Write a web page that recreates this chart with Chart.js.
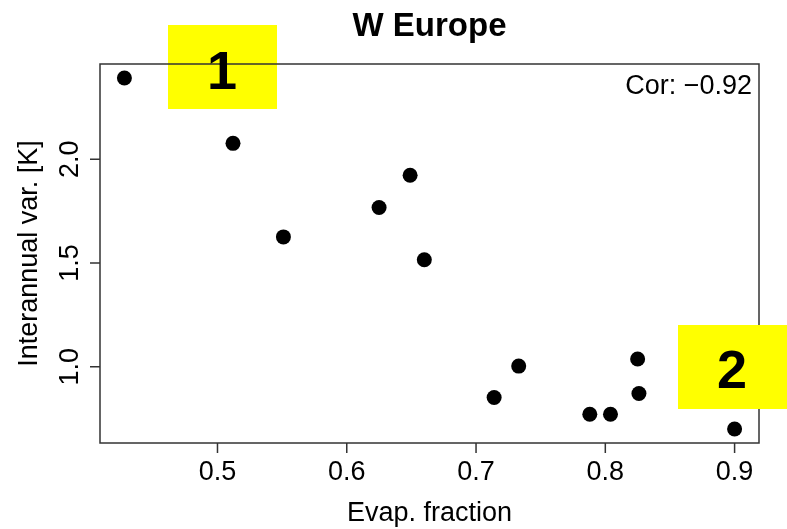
<!DOCTYPE html>
<html>
<head>
<meta charset="utf-8">
<script src="https://cdn.jsdelivr.net/npm/chart.js@4/dist/chart.umd.min.js"></script>
<style>
  html, body { margin: 0; padding: 0; background: #fff; }
  #wrap { width: 787px; height: 529px; }
</style>
</head>
<body>
<div id="wrap"><canvas id="chart" width="787" height="529"></canvas></div>
<script>
// Data
const evapFraction = [0.428, 0.512, 0.551, 0.625, 0.649, 0.660, 0.714, 0.733, 0.788, 0.804, 0.825, 0.826, 0.900];
const interannualVar = [2.392, 2.077, 1.626, 1.768, 1.923, 1.516, 0.852, 1.003, 0.771, 0.771, 1.037, 0.871, 0.700];
const xTicks = [0.5, 0.6, 0.7, 0.8, 0.9];
const yTicks = [1.0, 1.5, 2.0];
const titleText = 'W Europe';
const xTitle = 'Evap. fraction';
const yTitle = 'Interannual var. [K]';
const corText = 'Cor: \u22120.92';

const FONT = '"Liberation Sans", Arial, Helvetica, sans-serif';

// R-style axis range: data range extended by 4% each side
function rRange(v) {
    const lo = Math.min(...v), hi = Math.max(...v);
    const d = (hi - lo) * 0.04;
    return [lo - d, hi + d];
}
const [xMin, xMax] = rRange(evapFraction);
const [yMin, yMax] = rRange(interannualVar);

// Draws the base-R look: box, ticks, labels, titles and the two yellow tags
const rDecor = {
    id: 'rDecor',
    afterDatasetsDraw(chart) {
        const ctx = chart.ctx;
        const a = chart.chartArea;
        const xs = chart.scales.x, ys = chart.scales.y;
        ctx.save();

        // yellow tag 1 (sits under the frame)
        ctx.fillStyle = '#ffff00';
        ctx.fillRect(168, 25, 109, 84);

        // frame
        ctx.strokeStyle = '#333';
        ctx.lineWidth = 1.5;
        ctx.strokeRect(a.left, a.top, a.right - a.left, a.bottom - a.top);

        // ticks
        ctx.beginPath();
        xTicks.forEach(t => {
            const px = xs.getPixelForValue(t);
            ctx.moveTo(px, a.bottom);
            ctx.lineTo(px, a.bottom + 10);
        });
        yTicks.forEach(t => {
            const py = ys.getPixelForValue(t);
            ctx.moveTo(a.left, py);
            ctx.lineTo(a.left - 10, py);
        });
        ctx.stroke();

        ctx.fillStyle = '#000';
        ctx.font = '27px ' + FONT;
        ctx.textAlign = 'center';
        ctx.textBaseline = 'alphabetic';
        xTicks.forEach(t => {
            ctx.fillText(t.toFixed(1), xs.getPixelForValue(t), 480);
        });
        ctx.fillText(xTitle, (a.left + a.right) / 2, 521);

        yTicks.forEach(t => {
            ctx.save();
            ctx.translate(78, ys.getPixelForValue(t));
            ctx.rotate(-Math.PI / 2);
            ctx.fillText(t.toFixed(1), 0, 0);
            ctx.restore();
        });
        ctx.save();
        ctx.translate(37, (a.top + a.bottom) / 2);
        ctx.rotate(-Math.PI / 2);
        ctx.fillText(yTitle, 0, 0);
        ctx.restore();

        ctx.textAlign = 'right';
        ctx.fillText(corText, 752, 94);

        ctx.textAlign = 'center';
        ctx.font = 'bold 33px ' + FONT;
        ctx.fillText(titleText, (a.left + a.right) / 2, 36);

        // yellow tag 2 (covers the frame)
        ctx.fillStyle = '#ffff00';
        ctx.fillRect(678, 325, 109, 84);

        ctx.fillStyle = '#000';
        ctx.font = 'bold 54px ' + FONT;
        ctx.fillText('1', 222, 89);
        ctx.fillText('2', 732, 388);

        ctx.restore();
    }
};

new Chart(document.getElementById('chart'), {
    type: 'scatter',
    data: {
        datasets: [{
            data: evapFraction.map((x, i) => ({ x: x, y: interannualVar[i] })),
            backgroundColor: '#000',
            borderColor: '#000',
            pointRadius: 7.5,
            pointHoverRadius: 7.5,
            borderWidth: 0
        }]
    },
    options: {
        responsive: false,
        animation: false,
        devicePixelRatio: 1,
        layout: { padding: { left: 100, top: 64, right: 28, bottom: 86 } },
        plugins: { legend: { display: false }, tooltip: { enabled: false } },
        scales: {
            x: { type: 'linear', min: xMin, max: xMax, display: false },
            y: { type: 'linear', min: yMin, max: yMax, display: false }
        }
    },
    plugins: [rDecor]
});
</script>
</body>
</html>
